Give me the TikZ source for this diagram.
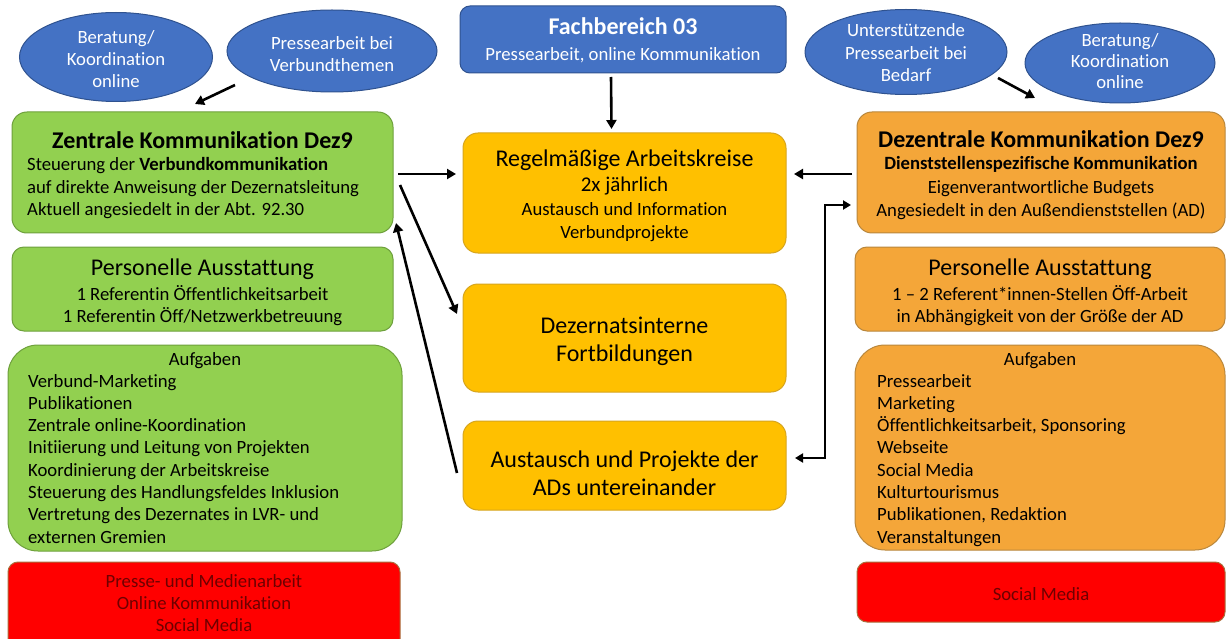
\documentclass[tikz,border=0pt]{standalone}
\usepackage{fontspec}
\setmainfont{Carlito}[Ligatures=NoCommon]
\usetikzlibrary{arrows.meta,shapes.geometric}

\definecolor{blueF}{RGB}{68,114,196}
\definecolor{blueD}{RGB}{47,82,143}
\definecolor{greenF}{RGB}{146,208,80}
\definecolor{greenD}{RGB}{110,160,60}
\definecolor{yellowF}{RGB}{255,192,0}
\definecolor{yellowD}{RGB}{215,165,30}
\definecolor{orangeF}{RGB}{244,166,57}
\definecolor{orangeD}{RGB}{185,135,60}
\definecolor{redF}{RGB}{255,0,0}
\definecolor{redD}{RGB}{170,110,60}
\definecolor{redT}{RGB}{110,0,0}

\newcommand\fbody{\fontsize{18.7}{22}\selectfont}
\newcommand\fhead{\fontsize{24}{28}\selectfont}
\newcommand\fmid{\fontsize{21}{25}\selectfont}

\tikzset{
  panel/.style={draw, line width=1pt, rounded corners=#1, anchor=north west,
    inner sep=0pt, outer sep=0pt},
  panel/.default=14pt,
  oval/.style={ellipse, draw=blueD, fill=blueF, line width=1pt, inner sep=0pt},
  txt/.style={anchor=base, inner sep=0pt, font=\fbody},
  ltxt/.style={anchor=base west, inner sep=0pt, font=\fbody},
  arr/.style={line width=2.6pt, -{Triangle[length=9pt,width=10pt]}},
  arrtwo/.style={line width=2pt, {Triangle[length=8pt,width=9pt]}-{Triangle[length=8pt,width=9pt]}},
}

\begin{document}
\begin{tikzpicture}[x=1pt,y=-1pt]
\useasboundingbox[fill=white] (0,0) rectangle (1226,639);

% ---------- top ovals and department box ----------
\node[oval, minimum width=193pt, minimum height=89pt] (eL1) at (116,57) {};
\node[txt, text=white] (eL1a) at (116,44) {Beratung/};
\node[txt, text=white] (eL1b) at (116,66) {Koordination};
\node[txt, text=white] (eL1c) at (116,88) {online};

\node[oval, minimum width=210pt, minimum height=82pt] (eL2) at (332,51) {};
\node[txt, text=white] (eL2a) at (332,50) {Pressearbeit bei};
\node[txt, text=white] (eL2b) at (332,72) {Verbundthemen};

\node[oval, minimum width=202pt, minimum height=85pt] (eR1) at (906,52) {};
\node[txt, text=white] (eR1a) at (906,37) {Unterstützende};
\node[txt, text=white] (eR1b) at (906,60) {Pressearbeit bei};
\node[txt, text=white] (eR1c) at (906,82) {Bedarf};

\node[oval, minimum width=190pt, minimum height=80pt] (eR2) at (1120,63) {};
\node[txt, text=white] (eR2a) at (1120,47) {Beratung/};
\node[txt, text=white] (eR2b) at (1120,68) {Koordination};
\node[txt, text=white] (eR2c) at (1120,89) {online};

\node[panel=10pt, draw=blueD, fill=blueF, minimum width=326pt, minimum height=67pt] (fb) at (460,6) {};
\node[txt, text=white, font=\fhead\bfseries] (fba) at (623,35) {Fachbereich 03};
\node[txt, text=white] (fbb) at (623,61) {Pressearbeit, online Kommunikation};

% ---------- left column: central communication ----------
\node[panel=15pt, draw=greenD, fill=greenF, minimum width=381pt, minimum height=121pt] (zk) at (12,112) {};
\node[txt, font=\fhead\bfseries] (zka) at (202.5,149) {Zentrale Kommunikation Dez9};
\node[ltxt] (zkb) at (27,171) {Steuerung der \textbf{Verbundkommunikation}};
\node[ltxt] (zkc) at (27,194) {auf direkte Anweisung der Dezernatsleitung};
\node[ltxt] (zkd) at (27,216) {Aktuell angesiedelt in der Abt. 92.30};

\node[panel=12pt, draw=greenD, fill=greenF, minimum width=381pt, minimum height=84pt] (zp) at (12,247) {};
\node[txt, font=\fhead] (zpa) at (202.5,275) {Personelle Ausstattung};
\node[txt] (zpb) at (202.5,300) {1 Referentin Öffentlichkeitsarbeit};
\node[txt] (zpc) at (202.5,322) {1 Referentin Öff/Netzwerkbetreuung};

\node[panel=30pt, draw=greenD, fill=greenF, minimum width=394pt, minimum height=206pt] (za) at (8,345) {};
\node[txt] (zaa) at (205,365) {Aufgaben};
\foreach \t [count=\i] in {Verbund-Marketing, Publikationen, Zentrale online-Koordination,
  Initiierung und Leitung von Projekten, Koordinierung der Arbeitskreise,
  Steuerung des Handlungsfeldes Inklusion, Vertretung des Dezernates in LVR- und,
  externen Gremien}
  \node[ltxt] (zl\i) at (28,{387+22.3*(\i-1)}) {\t};

\node[panel=10pt, draw=redD, fill=redF, minimum width=392pt, minimum height=90pt] (zr) at (8,562) {};
\node[txt, text=redT] (zra) at (204,587) {Presse- und Medienarbeit};
\node[txt, text=redT] (zrb) at (204,609) {Online Kommunikation};
\node[txt, text=redT] (zrc) at (204,631) {Social Media};

% ---------- middle column ----------
\node[panel=15pt, draw=yellowD, fill=yellowF, minimum width=323pt, minimum height=120pt] (ak) at (463,133) {};
\node[txt, font=\fhead] (aka) at (624.5,167) {Regelmäßige Arbeitskreise};
\node[txt, font=\fmid] (akb) at (624.5,192) {2x jährlich};
\node[txt] (akc) at (624.5,215) {Austausch und Information};
\node[txt] (akd) at (624.5,238) {Verbundprojekte};

\node[panel=15pt, draw=yellowD, fill=yellowF, minimum width=323pt, minimum height=108pt] (fo) at (463,284) {};
\node[txt, font=\fhead] (foa) at (624.5,333) {Dezernatsinterne};
\node[txt, font=\fhead] (fob) at (624.5,361) {Fortbildungen};

\node[panel=15pt, draw=yellowD, fill=yellowF, minimum width=323pt, minimum height=89pt] (ap) at (463,421) {};
\node[txt, font=\fhead] (apa) at (624.5,467) {Austausch und Projekte der};
\node[txt, font=\fhead] (apb) at (624.5,495) {ADs untereinander};

% ---------- right column: decentral communication ----------
\node[panel=15pt, draw=orangeD, fill=orangeF, minimum width=368pt, minimum height=121pt] (dz) at (857,112) {};
\node[txt, font=\fhead\bfseries] (dza) at (1041,148) {Dezentrale Kommunikation Dez9};
\node[txt, font=\fbody\bfseries] (dzb) at (1041,170) {Dienststellenspezifische Kommunikation};
\node[txt] (dzc) at (1041,194) {Eigenverantwortliche Budgets};
\node[txt] (dzd) at (1041,217) {Angesiedelt in den Außendienststellen (AD)};

\node[panel=12pt, draw=orangeD, fill=orangeF, minimum width=370pt, minimum height=84pt] (dp) at (855,247) {};
\node[txt, font=\fhead] (dpa) at (1040,275) {Personelle Ausstattung};
\node[txt] (dpb) at (1040,300) {1 – 2 Referent*innen-Stellen Öff-Arbeit};
\node[txt] (dpc) at (1040,322) {in Abhängigkeit von der Größe der AD};

\node[panel=30pt, draw=orangeD, fill=orangeF, minimum width=370pt, minimum height=205pt] (da) at (855,345) {};
\node[txt] (daa) at (1040,365) {Aufgaben};
\foreach \t [count=\i] in {Pressearbeit, Marketing, {Öffentlichkeitsarbeit, Sponsoring},
  Webseite, Social Media, Kulturtourismus, {Publikationen, Redaktion}, Veranstaltungen}
  \node[ltxt] (dl\i) at (877,{387+22.3*(\i-1)}) {\t};

\node[panel=10pt, draw=redD, fill=redF, minimum width=368pt, minimum height=60pt] (dr) at (857,562) {};
\node[txt, text=redT] (dra) at (1041,600) {Social Media};

% ---------- connectors ----------
\draw[arr] ([shift={(-97,34)}]eL2.center) -- ([shift={(-7.5,-8)}]zk.north);
\draw[arr] ([shift={(92,26)}]eR1.center) -- ([shift={(-6,-14)}]dz.north);
\draw[arr] ([shift={(-12,4)}]fb.south) -- ([shift={(-13,-4)}]ak.north);
\draw[arr] ([shift={(5,1.5)}]zk.east) -- ([shift={(-7,-19)}]ak.west);
\draw[arr] ([shift={(7,12.5)}]zk.east) -- ([shift={(-6,-24)}]fo.west);
\draw[arr] ([shift={(-6,7.5)}]ap.west) -- ([shift={(3,-10)}]zk.south east);
\draw[arr] ([shift={(-5,1.5)}]dz.west) -- ([shift={(8,-19)}]ak.east);
\coordinate (elbow) at (825,205);
\draw[arrtwo] ([shift={(9,-7.5)}]ap.east) -| (elbow) -- ([shift={(-6,32.5)}]dz.west);
\end{tikzpicture}
\end{document}
